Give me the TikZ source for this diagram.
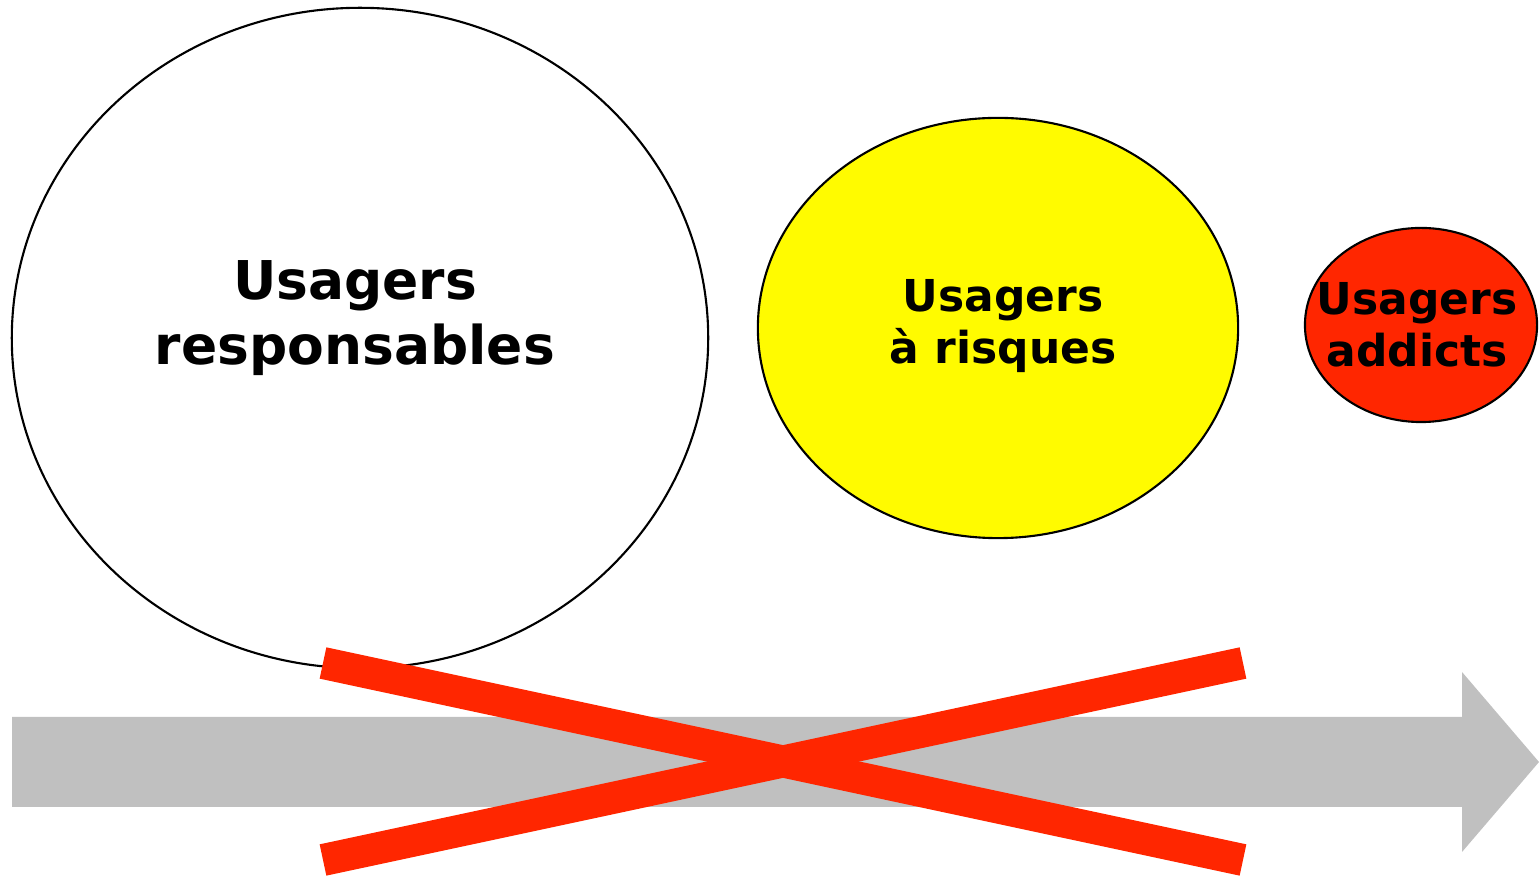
\documentclass[tikz,border=0pt]{standalone}
\usepackage{fontspec}
\setmainfont{DejaVu Sans}
\usetikzlibrary{shapes.geometric}
\definecolor{grisfleche}{HTML}{C0C0C0}
\definecolor{rougex}{HTML}{FF2600}
\definecolor{jaune}{HTML}{FFFB00}
\tikzset{
    groupe/.style={ellipse, draw=black, line width=0.6pt, inner sep=0pt},
    grand/.style={font=\fontsize{15.2}{18.5}\selectfont\bfseries, align=center},
    petit/.style={font=\fontsize{12.5}{14.8}\selectfont\bfseries, align=center},
}

\begin{document}
\begin{tikzpicture}[x=0.01cm, y=-0.01cm]
        \useasboundingbox (0, 0) rectangle (1539, 877);

        \node[groupe, fill=white, minimum width=6.96cm, minimum height=6.6cm] (resp) at (360, 338) {};
        \node[groupe, fill=jaune, minimum width=4.8cm, minimum height=4.2cm] (risq) at (998, 328) {};
        \node[groupe, fill=rougex, minimum width=2.32cm, minimum height=1.94cm] (addi) at (1421, 325) {};

        \node[grand] at (355, 318) {Usagers\\responsables};
        \node[petit] at (1003, 326) {Usagers\\ à risques};
        \node[petit] at (1417, 325) {Usagers\\ addicts};

        \fill[grisfleche] (12, 717) -- (1462, 717) -- (1462, 672) -- (1539, 762)
            -- (1462, 852) -- (1462, 807) -- (12, 807) -- cycle;

        \coordinate (hg) at (323, 663);
        \coordinate (hd) at (1243, 663);
        \coordinate (bg) at (323, 860);
        \coordinate (bd) at (1243, 860);
        \draw[rougex, line width=0.32cm] (hg) -- (bd);
        \draw[rougex, line width=0.32cm] (bg) -- (hd);
    \end{tikzpicture}
\end{document}
